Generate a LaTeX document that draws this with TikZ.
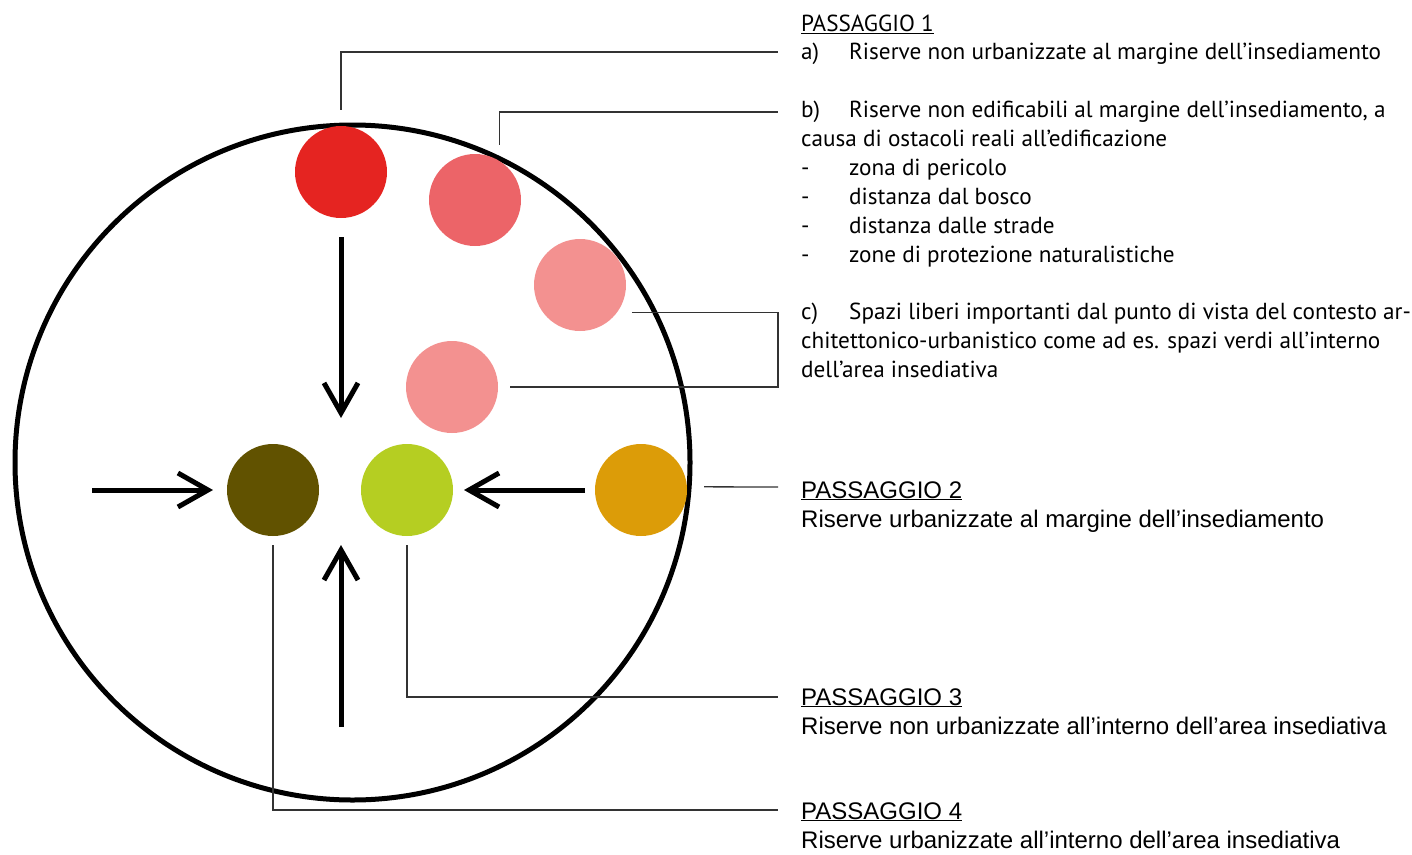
\documentclass[tikz,border=0pt]{standalone}
\usepackage{fontspec}
\setmainfont{Liberation Sans}
\newfontfamily\myr{PT Sans}
\newfontfamily\ari{Liberation Sans}
\usetikzlibrary{arrows.meta}
\definecolor{cred}{HTML}{E52421}
\definecolor{cpinkA}{HTML}{EC6468}
\definecolor{cpinkB}{HTML}{F39190}
\definecolor{colive}{HTML}{615200}
\definecolor{clime}{HTML}{B5CE22}
\definecolor{corange}{HTML}{DC9C08}
\definecolor{cline}{HTML}{333333}
\tikzset{
  dot/.style={circle, minimum size=92pt, inner sep=0pt, draw=none},
  leader/.style={draw=cline, line width=1.3pt},
  bigarrow/.style={line width=5pt, -{Straight Barb[length=30pt,width=34pt,line width=5pt]}},
  mtxt/.style={anchor=base west, inner sep=0pt, font=\myr\fontsize{23.2}{26}\selectfont},
  atxt/.style={anchor=base west, inner sep=0pt, font=\ari\fontsize{24}{28}\selectfont},
}
\begin{document}
\begin{tikzpicture}[x=1pt,y=-1pt]
\useasboundingbox (0,0) rectangle (1412,854);
% big circle
\draw[line width=5pt] (352.5,462.5) circle[radius=337.5];
% dots
\node[dot, fill=cred]    (red) at (341,172) {};
\node[dot, fill=cpinkA]  (pA)  at (475,200) {};
\node[dot, fill=cpinkB]  (pB)  at (580,285) {};
\node[dot, fill=cpinkB]  (pC)  at (452,387) {};
\node[dot, fill=colive]  (ol)  at (273,490) {};
\node[dot, fill=clime]   (li)  at (407,490) {};
\node[dot, fill=corange] (orn) at (641,490) {};
% arrows
\coordinate (aDs) at (341,237); \coordinate (aDe) at (341,418);
\coordinate (aUs) at (341,727); \coordinate (aUe) at (341,545);
\coordinate (aLs) at (92,490);  \coordinate (aLe) at (213,490);
\coordinate (aRs) at (585,490); \coordinate (aRe) at (464,490);
\draw[bigarrow] (aDs) -- (aDe);
\draw[bigarrow] (aUs) -- (aUe);
\draw[bigarrow] (aLs) -- (aLe);
\draw[bigarrow] (aRs) -- (aRe);
% leader ends
\coordinate (t1a) at (778,52);
\coordinate (t1b) at (778,112);
\coordinate (t1c) at (778,350);
\coordinate (t2) at (778,487);
\coordinate (t3) at (778,697);
\coordinate (t4) at (778,810);
\draw[leader, shorten <=16pt] (red.north) |- (t1a);
\draw[leader, shorten <=16pt] (pA.58.6) |- (t1b);
\draw[leader, shorten <=15pt, shorten >=12pt] (pB.-37.5) -| (t1c) |- (pC.east);
\draw[leader, shorten <=17pt] (orn.4) -- (t2);
\draw[leader, shorten <=9pt] (li.south) |- (t3);
\draw[leader, shorten <=9pt] (ol.south) |- (t4);
% texts passaggio 1
\node[mtxt] (h1) at (801,31.5) {\underline{PASSAGGIO 1}};
\node[mtxt] (l1) at (801,59) {\makebox[48pt][l]{a)}Riserve non urbanizzate al margine dell’insediamento};
\node[mtxt] (l2) at (801,117) {\makebox[48pt][l]{b)}Riserve non edificabili al margine dell’insediamento, a};
\node[mtxt] (l3) at (801,146) {causa di ostacoli reali all’edificazione};
\node[mtxt] (l4) at (801,175) {\makebox[48pt][l]{-}zona di pericolo};
\node[mtxt] (l5) at (801,204) {\makebox[48pt][l]{-}distanza dal bosco};
\node[mtxt] (l6) at (801,233) {\makebox[48pt][l]{-}distanza dalle strade};
\node[mtxt] (l7) at (801,262) {\makebox[48pt][l]{-}zone di protezione naturalistiche};
\node[mtxt] (l8) at (801,319) {\makebox[48pt][l]{c)}Spazi liberi importanti dal punto di vista del contesto ar-};
\node[mtxt] (l9) at (801,348) {chitettonico-urbanistico come ad es. spazi verdi all’interno};
\node[mtxt] (l10) at (801,377) {dell’area insediativa};
% passaggio 2-4
\node[atxt] (h2) at (801,498) {\underline{PASSAGGIO 2}};
\node[atxt] (d2) at (801,527) {Riserve urbanizzate al margine dell’insediamento};
\node[atxt] (h3) at (801,705) {\underline{PASSAGGIO 3}};
\node[atxt] (d3) at (801,734) {Riserve non urbanizzate all’interno dell’area insediativa};
\node[atxt] (h4) at (801,819) {\underline{PASSAGGIO 4}};
\node[atxt] (d4) at (801,848) {Riserve urbanizzate all’interno dell’area insediativa};
\end{tikzpicture}
\end{document}
